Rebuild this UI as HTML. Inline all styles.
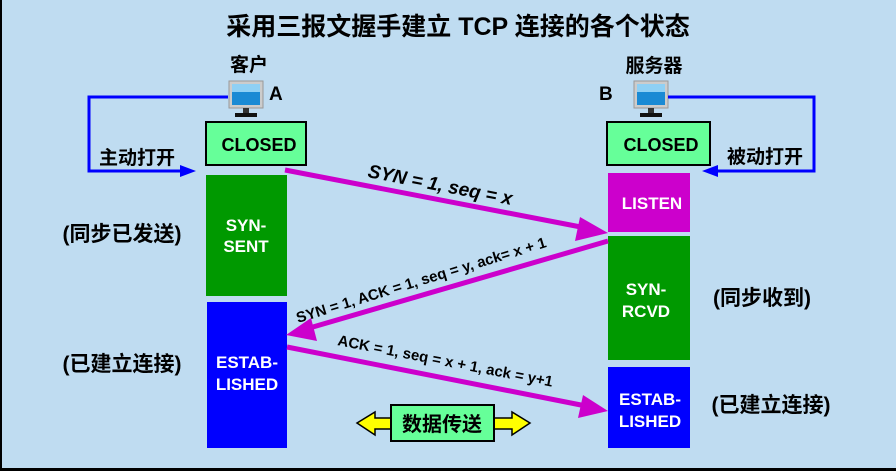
<!DOCTYPE html>
<html><head><meta charset="utf-8"><style>
body{margin:0;width:896px;height:471px;overflow:hidden;background:#fff}
svg{display:block}
text{font-family:"Liberation Sans","Noto Sans CJK SC",sans-serif;font-weight:bold}
</style></head><body>
<svg width="896" height="471" viewBox="0 0 896 471">
<rect x="0" y="0" width="896" height="471" fill="#000"/>
<rect x="2" y="0" width="894" height="468" fill="#bfdcf1"/>
<text x="458" y="35" font-size="25" text-anchor="middle" fill="#000">采用三报文握手建立 TCP 连接的各个状态</text>
<text x="249" y="71" font-size="19" text-anchor="middle">客户</text>
<text x="654" y="72" font-size="19" text-anchor="middle">服务器</text>
<text x="269" y="100" font-size="19">A</text>
<text x="599" y="100" font-size="19">B</text>
<!-- monitors -->
<g>
<rect x="229" y="81" width="34" height="27" fill="#ccc" stroke="#999"/>
<rect x="232" y="84" width="28" height="21" fill="#1a8ad4"/>
<rect x="232" y="84" width="28" height="8" fill="#8fd0f4"/>
<rect x="243" y="108" width="6" height="5" fill="#333"/>
<rect x="235" y="113" width="22" height="4" fill="#111"/>
</g>
<g transform="translate(405,0)">
<rect x="229" y="81" width="34" height="27" fill="#ccc" stroke="#999"/>
<rect x="232" y="84" width="28" height="21" fill="#1a8ad4"/>
<rect x="232" y="84" width="28" height="8" fill="#8fd0f4"/>
<rect x="243" y="108" width="6" height="5" fill="#333"/>
<rect x="235" y="113" width="22" height="4" fill="#111"/>
</g>
<!-- blue loops -->
<polyline points="228,97 89,97 89,171 182,171" fill="none" stroke="#0000ff" stroke-width="3"/>
<polygon points="180,165 196,171 180,177" fill="#0000ff"/>
<polyline points="668,97 814,97 814,171 716,171" fill="none" stroke="#0000ff" stroke-width="3"/>
<polygon points="718,165 702,171 718,177" fill="#0000ff"/>
<text x="137" y="164" font-size="19" text-anchor="middle">主动打开</text>
<text x="765" y="163" font-size="19" text-anchor="middle">被动打开</text>
<!-- boxes -->
<rect x="206" y="122" width="100" height="43" fill="#66ff99" stroke="#000" stroke-width="2"/>
<text x="259" y="151" font-size="18" text-anchor="middle">CLOSED</text>
<rect x="607" y="122" width="103" height="43" fill="#66ff99" stroke="#000" stroke-width="2"/>
<text x="661" y="151" font-size="18" text-anchor="middle">CLOSED</text>
<rect x="206" y="175" width="81" height="121" fill="#009900"/>
<text x="246" y="231" font-size="17" fill="#fff" text-anchor="middle">SYN-</text>
<text x="246" y="252" font-size="17" fill="#fff" text-anchor="middle">SENT</text>
<rect x="207" y="302" width="80" height="146" fill="#0000ff"/>
<text x="247" y="368" font-size="17" fill="#fff" text-anchor="middle">ESTAB-</text>
<text x="247" y="390" font-size="17" fill="#fff" text-anchor="middle">LISHED</text>
<rect x="608" y="173" width="82" height="59" fill="#cc00cc"/>
<text x="652" y="209" font-size="17" fill="#fff" text-anchor="middle">LISTEN</text>
<rect x="608" y="236" width="82" height="124" fill="#009900"/>
<text x="646" y="295" font-size="17" fill="#fff" text-anchor="middle">SYN-</text>
<text x="646" y="317" font-size="17" fill="#fff" text-anchor="middle">RCVD</text>
<rect x="608" y="367" width="82" height="81" fill="#0000ff"/>
<text x="650" y="405" font-size="17" fill="#fff" text-anchor="middle">ESTAB-</text>
<text x="650" y="427" font-size="17" fill="#fff" text-anchor="middle">LISHED</text>
<!-- side labels -->
<text x="122" y="241" font-size="21" text-anchor="middle">(同步已发送)</text>
<text x="122" y="371" font-size="21" text-anchor="middle">(已建立连接)</text>
<text x="762" y="305" font-size="21" text-anchor="middle">(同步收到)</text>
<text x="771" y="412" font-size="21" text-anchor="middle">(已建立连接)</text>
<!-- magenta arrows -->
<g stroke="#cc00cc" stroke-width="5" fill="#cc00cc">
<line x1="285" y1="170" x2="586" y2="228"/>
<line x1="608" y1="241" x2="306" y2="329"/>
<line x1="287" y1="347" x2="586" y2="406"/>
</g>
<polygon points="608,233 580,217 575,241" fill="#cc00cc"/>
<polygon points="286,335 311,318 317,341" fill="#cc00cc"/>
<polygon points="608,411 583,395 578,418" fill="#cc00cc"/>
<text transform="translate(367,177) rotate(11)" font-size="19" font-style="italic">SYN = 1, seq = x</text>
<text transform="translate(298,323) rotate(-17)" font-size="15">SYN = 1, ACK = 1, seq = y, ack= x + 1</text>
<text transform="translate(337,345) rotate(11)" font-size="15">ACK = 1, seq = x + 1, ack = y+1</text>
<!-- data transfer -->
<polygon points="357,423 375,412 375,418 392,418 392,429 375,429 375,435" fill="#ffff00" stroke="#000" stroke-width="1.5"/>
<polygon points="530,423 512,412 512,418 494,418 494,429 512,429 512,435" fill="#ffff00" stroke="#000" stroke-width="1.5"/>
<rect x="391" y="405" width="103" height="36" fill="#66ff99" stroke="#000" stroke-width="2"/>
<text x="442" y="431" font-size="20" text-anchor="middle">数据传送</text>
</svg>
</body></html>
